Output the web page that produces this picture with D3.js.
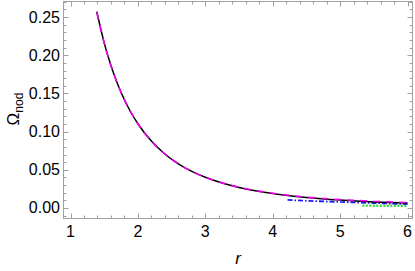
<!DOCTYPE html>
<html>
<head>
<meta charset="utf-8">
<script src="https://cdn.jsdelivr.net/npm/d3@7"></script>
<style>
  body { margin: 0; background: #fff; }
  svg { display: block; font-family: "Liberation Sans", Arial, sans-serif; }
</style>
</head>
<body>
<div id="chart"></div>
<script>
// values
var rVals    = [1.39, 1.5, 1.6, 1.7, 1.8, 1.9, 2.0, 2.2, 2.4, 2.6, 2.8, 3.0, 3.25, 3.5, 4.0, 4.5, 5.0, 5.5, 6.0];
var solidVals = [0.257, 0.2162, 0.1865, 0.1620, 0.1417, 0.1247, 0.1103, 0.0876, 0.0707, 0.0578, 0.0479, 0.0402, 0.0327, 0.0269, 0.0189, 0.0138, 0.0104, 0.0080, 0.0064];
var dashVals  = [0.256, 0.2160, 0.1863, 0.1619, 0.1417, 0.1247, 0.1103, 0.0876, 0.0707, 0.0579, 0.0480, 0.0403, 0.0329, 0.0272, 0.0193, 0.0143, 0.0110, 0.0088, 0.0072];
var dashDotR    = [4.22, 4.6, 5.0, 5.5, 6.0];
var dashDotVals = [0.0105, 0.0091, 0.0079, 0.0065, 0.0052];
var dotR    = [5.33, 5.6, 6.0];
var dotVals = [0.0031, 0.0030, 0.0029];

var xTicks = [1, 2, 3, 4, 5, 6];
var yTicks = [0, 0.05, 0.10, 0.15, 0.20, 0.25];

var width = 415, height = 271;
var plotLeft = 63, plotRight = 413, plotTop = 1, plotBottom = 218;

var svg = d3.select("#chart").append("svg")
  .attr("width", width)
  .attr("height", height);

var x = d3.scaleLinear().domain([0.8887, 6.0816]).range([plotLeft, plotRight]);
var y = d3.scaleLinear().domain([-0.0131, 0.2710]).range([plotBottom, plotTop]);

var axisColor = "#a0a0a0";

// frame
svg.append("rect")
  .attr("x", plotLeft + 0.5).attr("y", plotTop + 0.5)
  .attr("width", plotRight - plotLeft - 1).attr("height", plotBottom - plotTop)
  .attr("fill", "none").attr("stroke", axisColor).attr("stroke-width", 1);

// minor + major ticks, pointing inward on all four sides
var g = svg.append("g").attr("stroke", axisColor).attr("stroke-width", 1);
d3.range(1, 6.01, 0.2).forEach(function(v) {
  var major = Math.abs(v - Math.round(v)) < 1e-6;
  var len = major ? 5 : 3;
  var px = Math.round(x(v)) + 0.5;
  g.append("line").attr("x1", px).attr("x2", px).attr("y1", plotBottom + 0.5).attr("y2", plotBottom + 0.5 - len);
  g.append("line").attr("x1", px).attr("x2", px).attr("y1", plotTop + 0.5).attr("y2", plotTop + 0.5 + len);
});
d3.range(-0.01, 0.2701, 0.01).forEach(function(v) {
  var major = Math.abs(v / 0.05 - Math.round(v / 0.05)) < 1e-6;
  var len = major ? 5 : 3;
  var py = Math.round(y(v)) + 0.5;
  g.append("line").attr("y1", py).attr("y2", py).attr("x1", plotLeft + 0.5).attr("x2", plotLeft + 0.5 + len);
  g.append("line").attr("y1", py).attr("y2", py).attr("x1", plotRight - 0.5).attr("x2", plotRight - 0.5 - len);
});

// tick labels
svg.selectAll(".xl").data(xTicks).enter().append("text")
  .attr("x", function(d) { return x(d); })
  .attr("y", 237)
  .attr("text-anchor", "middle")
  .attr("font-size", 16)
  .text(function(d) { return d; });

svg.selectAll(".yl").data(yTicks).enter().append("text")
  .attr("x", 60)
  .attr("y", function(d) { return y(d) + 5.5; })
  .attr("text-anchor", "end")
  .attr("font-size", 16)
  .text(function(d) { return d.toFixed(2); });

// axis labels
svg.append("text")
  .attr("x", 238).attr("y", 264)
  .attr("text-anchor", "middle")
  .attr("font-size", 17)
  .attr("font-style", "italic")
  .text("r");

var yl = svg.append("text")
  .attr("transform", "translate(19,109) rotate(-90)")
  .attr("text-anchor", "middle")
  .attr("font-size", 17);
yl.append("tspan").text("Ω");
yl.append("tspan").attr("font-size", 12).attr("dy", 4).text("nod");

// curves
var line = d3.line()
  .x(function(d) { return x(d[0]); })
  .y(function(d) { return y(d[1]); })
  .curve(d3.curveMonotoneX);

var plot = svg.append("g");

plot.append("path")
  .attr("d", line(d3.zip(dotR, dotVals)))
  .attr("fill", "none").attr("stroke", "#33e033")
  .attr("stroke-width", 2.4).attr("stroke-dasharray", "2,1.5");

plot.append("path")
  .attr("d", line(d3.zip(dashDotR, dashDotVals)))
  .attr("fill", "none").attr("stroke", "#1a1aff")
  .attr("stroke-width", 1.8).attr("stroke-dasharray", "5,2,1.5,2");

plot.append("path")
  .attr("d", line(d3.zip(rVals, solidVals)))
  .attr("fill", "none").attr("stroke", "#000")
  .attr("stroke-width", 1.5);

plot.append("path")
  .attr("d", line(d3.zip(rVals, dashVals)))
  .attr("fill", "none").attr("stroke", "#ee00ee")
  .attr("stroke-width", 1.6).attr("stroke-dasharray", "7,6");
</script>
</body>
</html>
